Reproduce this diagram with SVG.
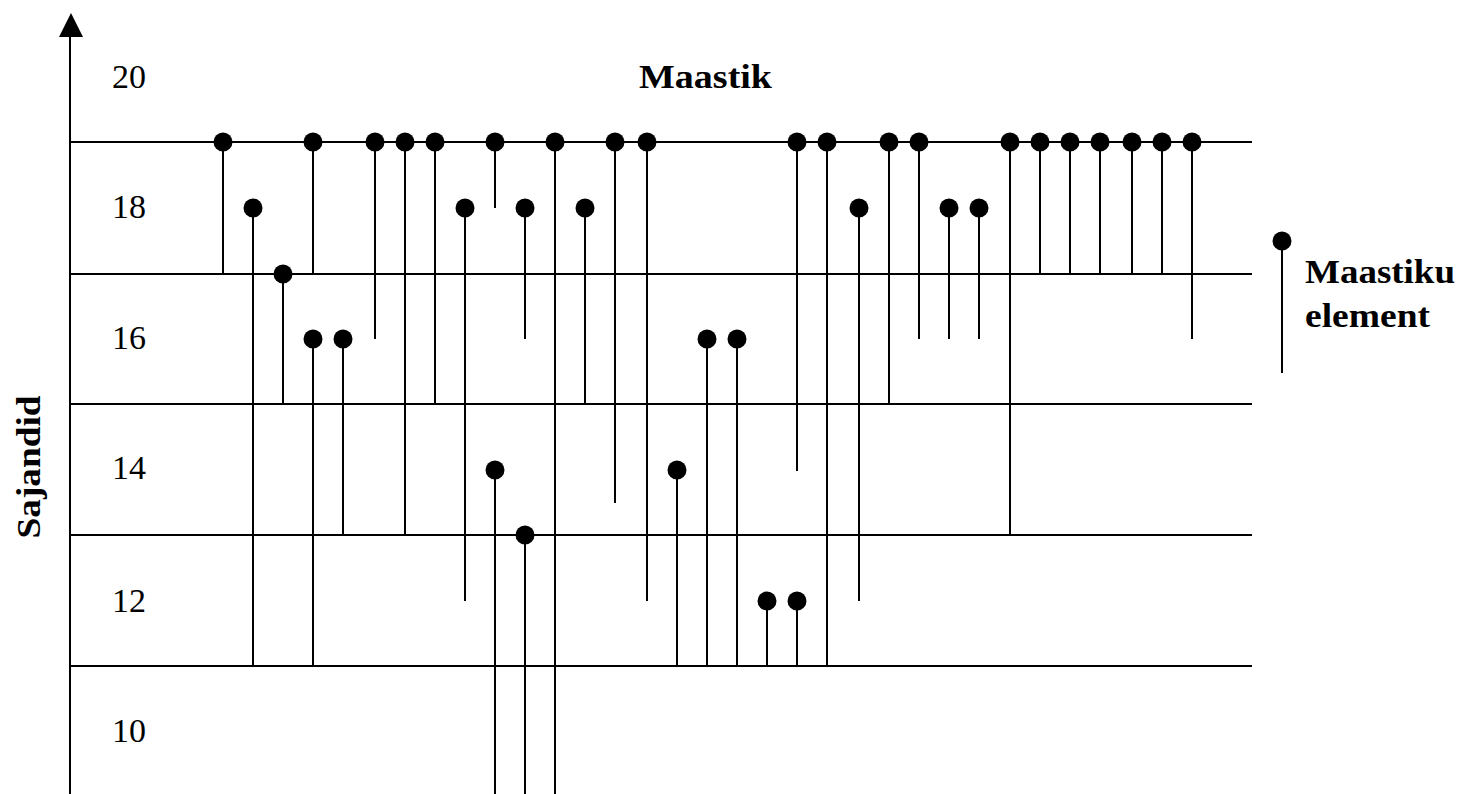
<svg xmlns="http://www.w3.org/2000/svg" width="1460" height="794" viewBox="0 0 1460 794">
<style>
.ln{stroke:#000;stroke-width:2;fill:none}
.dot{fill:#000}
.num{font-family:"Liberation Serif",serif;font-size:34px;fill:#000}
.bold{font-family:"Liberation Serif",serif;font-size:34px;font-weight:bold;fill:#000}
</style>
<rect width="1460" height="794" fill="#fff"/>
<g id="axis">
<line class="ln" x1="70" y1="36" x2="70" y2="794"/>
<polygon points="71,13 59,37 83,37" fill="#000"/>
<text class="bold" transform="translate(40,467) rotate(-90)" text-anchor="middle" textLength="143" lengthAdjust="spacingAndGlyphs">Sajandid</text>
</g>
<g id="grid">
<line class="ln" x1="70" y1="142" x2="1252" y2="142"/>
<line class="ln" x1="70" y1="274" x2="1252" y2="274"/>
<line class="ln" x1="70" y1="404" x2="1252" y2="404"/>
<line class="ln" x1="70" y1="535" x2="1252" y2="535"/>
<line class="ln" x1="70" y1="666" x2="1252" y2="666"/>
</g>
<g id="labels">
<text class="num" x="112" y="88">20</text>
<text class="num" x="112" y="218">18</text>
<text class="num" x="112" y="349">16</text>
<text class="num" x="112" y="479">14</text>
<text class="num" x="112" y="612">12</text>
<text class="num" x="112" y="742">10</text>
<text class="bold" x="639" y="88" textLength="133" lengthAdjust="spacingAndGlyphs">Maastik</text>
</g>
<g id="connectors">
<line class="ln" x1="223" y1="142" x2="223" y2="274"/>
<line class="ln" x1="253" y1="208" x2="253" y2="666"/>
<line class="ln" x1="283" y1="274" x2="283" y2="404"/>
<line class="ln" x1="313" y1="142" x2="313" y2="274"/>
<line class="ln" x1="313" y1="339" x2="313" y2="666"/>
<line class="ln" x1="343" y1="339" x2="343" y2="535"/>
<line class="ln" x1="375" y1="142" x2="375" y2="339"/>
<line class="ln" x1="405" y1="142" x2="405" y2="535"/>
<line class="ln" x1="435" y1="142" x2="435" y2="404"/>
<line class="ln" x1="465" y1="208" x2="465" y2="601"/>
<line class="ln" x1="495" y1="142" x2="495" y2="208"/>
<line class="ln" x1="495" y1="470" x2="495" y2="794"/>
<line class="ln" x1="525" y1="208" x2="525" y2="339"/>
<line class="ln" x1="525" y1="535" x2="525" y2="794"/>
<line class="ln" x1="555" y1="142" x2="555" y2="794"/>
<line class="ln" x1="585" y1="208" x2="585" y2="404"/>
<line class="ln" x1="615" y1="142" x2="615" y2="503"/>
<line class="ln" x1="647" y1="142" x2="647" y2="601"/>
<line class="ln" x1="677" y1="470" x2="677" y2="666"/>
<line class="ln" x1="707" y1="339" x2="707" y2="666"/>
<line class="ln" x1="737" y1="339" x2="737" y2="666"/>
<line class="ln" x1="767" y1="601" x2="767" y2="666"/>
<line class="ln" x1="797" y1="601" x2="797" y2="666"/>
<line class="ln" x1="797" y1="142" x2="797" y2="471"/>
<line class="ln" x1="827" y1="142" x2="827" y2="666"/>
<line class="ln" x1="859" y1="208" x2="859" y2="601"/>
<line class="ln" x1="889" y1="142" x2="889" y2="404"/>
<line class="ln" x1="919" y1="142" x2="919" y2="339"/>
<line class="ln" x1="949" y1="208" x2="949" y2="339"/>
<line class="ln" x1="979" y1="208" x2="979" y2="339"/>
<line class="ln" x1="1010" y1="142" x2="1010" y2="535"/>
<line class="ln" x1="1040" y1="142" x2="1040" y2="274"/>
<line class="ln" x1="1070" y1="142" x2="1070" y2="274"/>
<line class="ln" x1="1100" y1="142" x2="1100" y2="274"/>
<line class="ln" x1="1132" y1="142" x2="1132" y2="274"/>
<line class="ln" x1="1162" y1="142" x2="1162" y2="274"/>
<line class="ln" x1="1192" y1="142" x2="1192" y2="339"/>
</g>
<g id="elements">
<circle class="dot" cx="223" cy="142" r="9.5"/>
<circle class="dot" cx="253" cy="208" r="9.5"/>
<circle class="dot" cx="283" cy="274" r="9.5"/>
<circle class="dot" cx="313" cy="142" r="9.5"/>
<circle class="dot" cx="313" cy="339" r="9.5"/>
<circle class="dot" cx="343" cy="339" r="9.5"/>
<circle class="dot" cx="375" cy="142" r="9.5"/>
<circle class="dot" cx="405" cy="142" r="9.5"/>
<circle class="dot" cx="435" cy="142" r="9.5"/>
<circle class="dot" cx="465" cy="208" r="9.5"/>
<circle class="dot" cx="495" cy="142" r="9.5"/>
<circle class="dot" cx="495" cy="470" r="9.5"/>
<circle class="dot" cx="525" cy="208" r="9.5"/>
<circle class="dot" cx="525" cy="535" r="9.5"/>
<circle class="dot" cx="555" cy="142" r="9.5"/>
<circle class="dot" cx="585" cy="208" r="9.5"/>
<circle class="dot" cx="615" cy="142" r="9.5"/>
<circle class="dot" cx="647" cy="142" r="9.5"/>
<circle class="dot" cx="677" cy="470" r="9.5"/>
<circle class="dot" cx="707" cy="339" r="9.5"/>
<circle class="dot" cx="737" cy="339" r="9.5"/>
<circle class="dot" cx="767" cy="601" r="9.5"/>
<circle class="dot" cx="797" cy="601" r="9.5"/>
<circle class="dot" cx="797" cy="142" r="9.5"/>
<circle class="dot" cx="827" cy="142" r="9.5"/>
<circle class="dot" cx="859" cy="208" r="9.5"/>
<circle class="dot" cx="889" cy="142" r="9.5"/>
<circle class="dot" cx="919" cy="142" r="9.5"/>
<circle class="dot" cx="949" cy="208" r="9.5"/>
<circle class="dot" cx="979" cy="208" r="9.5"/>
<circle class="dot" cx="1010" cy="142" r="9.5"/>
<circle class="dot" cx="1040" cy="142" r="9.5"/>
<circle class="dot" cx="1070" cy="142" r="9.5"/>
<circle class="dot" cx="1100" cy="142" r="9.5"/>
<circle class="dot" cx="1132" cy="142" r="9.5"/>
<circle class="dot" cx="1162" cy="142" r="9.5"/>
<circle class="dot" cx="1192" cy="142" r="9.5"/>
</g>
<g id="legend">
<line class="ln" x1="1282" y1="241" x2="1282" y2="373"/>
<circle class="dot" cx="1282" cy="241" r="9.5"/>
<text class="bold" x="1305" y="283" textLength="150" lengthAdjust="spacingAndGlyphs">Maastiku</text>
<text class="bold" x="1305" y="327" textLength="125" lengthAdjust="spacingAndGlyphs">element</text>
</g>
</svg>
